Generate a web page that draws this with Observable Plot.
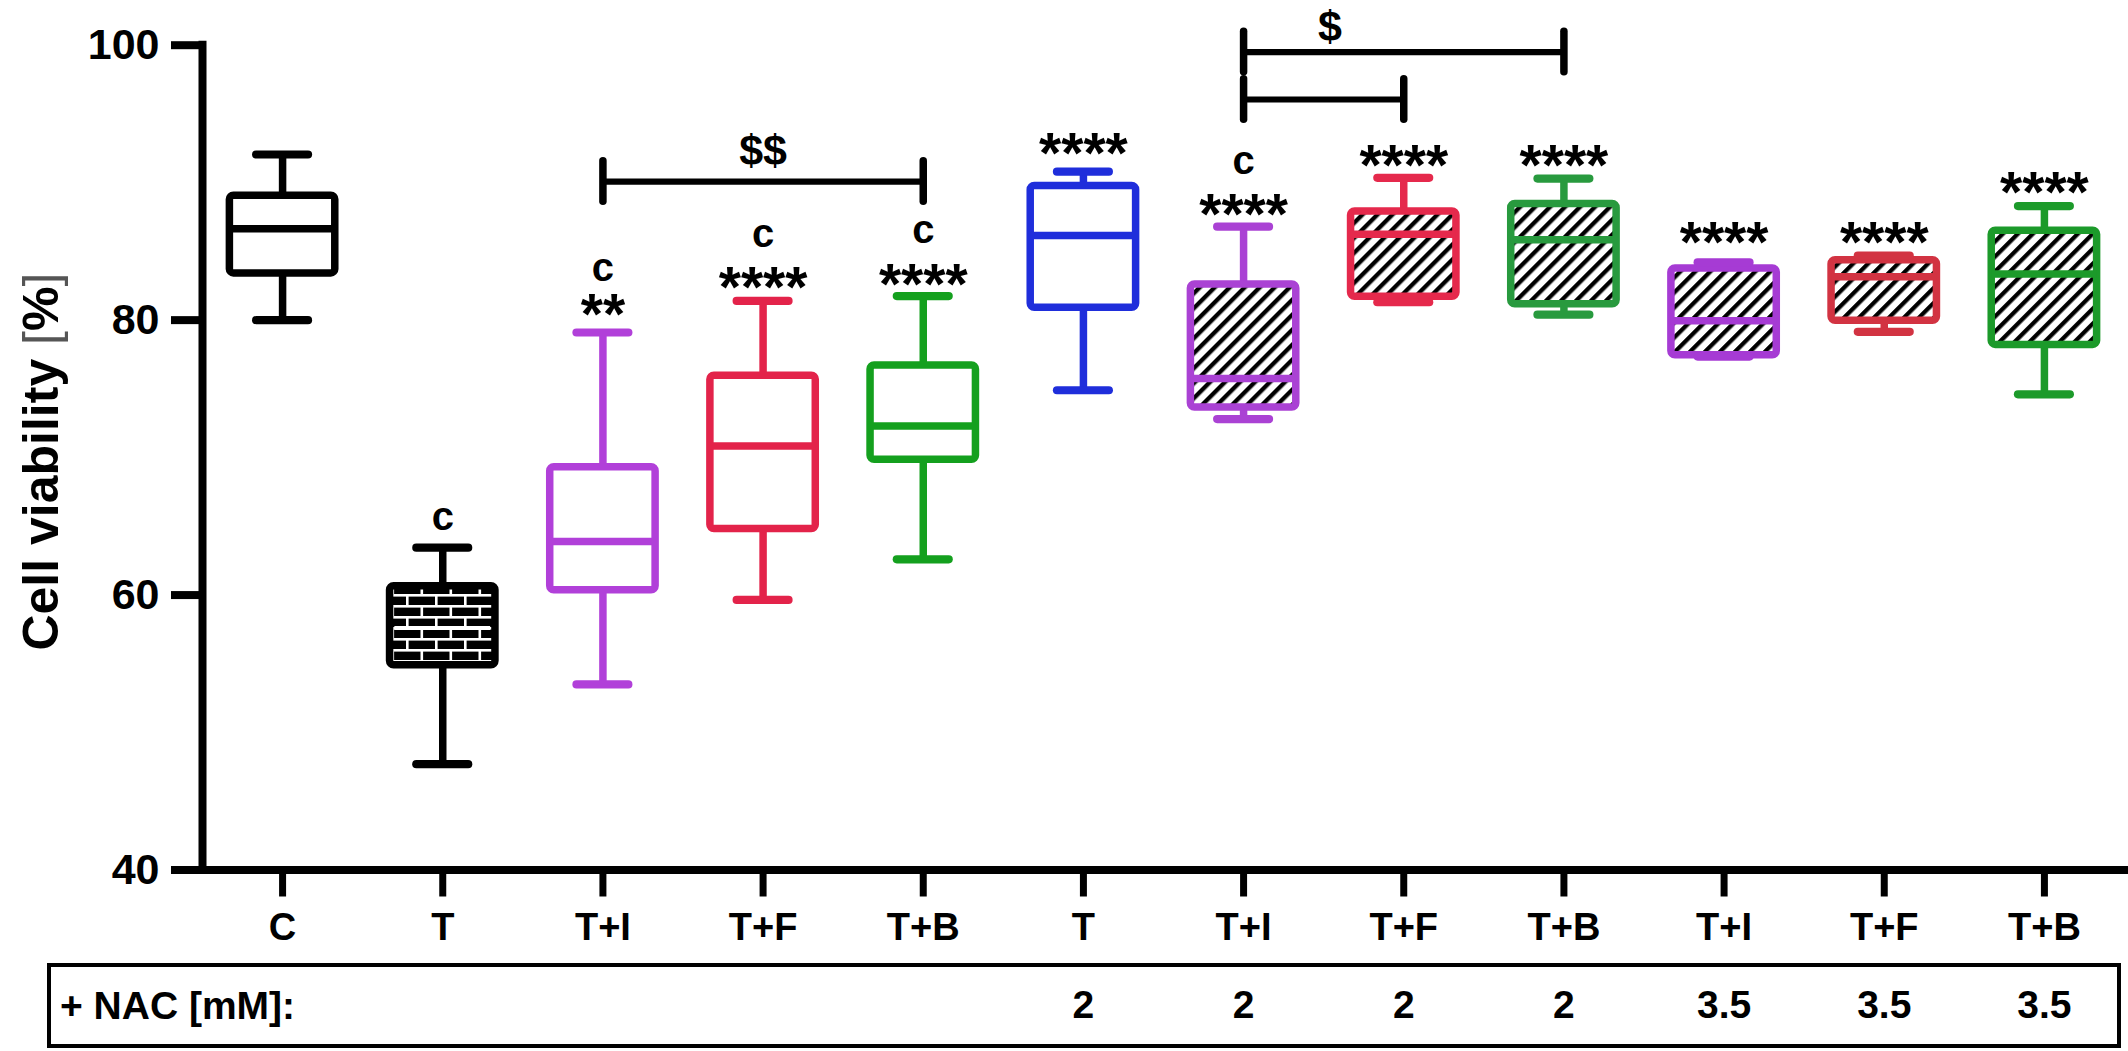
<!DOCTYPE html>
<html>
<head>
<meta charset="utf-8">
<script src="https://cdn.jsdelivr.net/npm/d3@7"></script>
<script src="https://cdn.jsdelivr.net/npm/@observablehq/plot@0.6"></script>
<style>
html, body { margin: 0; padding: 0; background: #fff; }
#wrap { position: relative; width: 2128px; height: 1051px; overflow: hidden; font-family: "Liberation Sans", Arial, Helvetica, sans-serif; }
#wrap svg.chart { position: absolute; left: 0; top: 0; }
#nacbox { position: absolute; left: 47px; top: 963px; width: 2074px; height: 85px; border: 4px solid #000; box-sizing: border-box; }
#naclabel { position: absolute; left: 60px; top: 1006px; transform: translateY(-50%); font-weight: bold; font-size: 39px; white-space: pre; }
</style>
</head>
<body>
<svg width="0" height="0" style="position:absolute;left:0;top:0">
  <defs>
    <pattern id="brick" patternUnits="userSpaceOnUse" width="29" height="22">
      <rect width="29" height="22" fill="#000"/>
      <rect x="0" y="0" width="29" height="2.6" fill="#fff"/>
      <rect x="0" y="11" width="29" height="2.6" fill="#fff"/>
      <rect x="0" y="0" width="2.6" height="11" fill="#fff"/>
      <rect x="14.5" y="11" width="2.6" height="11" fill="#fff"/>
    </pattern>
    <pattern id="hatch" patternUnits="userSpaceOnUse" width="10.6" height="10.6" patternTransform="rotate(45)">
      <rect width="10.6" height="10.6" fill="#fff"/>
      <rect width="4.3" height="10.6" fill="#000"/>
    </pattern>
  </defs>
</svg>
<div id="wrap">
  <div id="nacbox"></div>
  <div id="naclabel">+ NAC [mM]:</div>
</div>
<script>
// ---------------- data ----------------
const categories = ["C", "T", "T+I", "T+F", "T+B", "T", "T+I", "T+F", "T+B", "T+I", "T+F", "T+B"];
const nacLevels  = ["", "", "", "", "", "2", "2", "2", "2", "3.5", "3.5", "3.5"];

const whiskerLow  = [80.0, 47.7, 53.5, 59.65, 62.6, 74.9, 72.8, 81.3, 80.4, 77.35, 79.15, 74.6];
const quartile1   = [83.4, 54.9, 60.35, 64.8, 69.85, 80.9, 73.65, 81.7, 81.15, 77.45, 79.95, 78.2];
const medianValue = [86.65, 57.6, 63.9, 70.85, 72.3, 86.15, 75.75, 86.25, 85.85, 79.95, 83.15, 83.35];
const quartile3   = [89.05, 60.65, 69.3, 75.95, 76.7, 89.75, 82.6, 87.9, 88.45, 83.75, 84.35, 86.5];
const whiskerHigh = [92.05, 63.45, 79.1, 81.4, 81.75, 90.8, 86.8, 90.35, 90.3, 84.2, 84.7, 88.3];

const boxColors = ["#000000", "#000000", "#b140d9", "#e3234a", "#14a01e", "#1f2edb",
                   "#aa42d4", "#e5294c", "#289a3e", "#a63bd4", "#d23342", "#1c9a2a"];
const boxFill   = ["plain", "brick", "plain", "plain", "plain", "plain",
                   "hatch", "hatch", "hatch", "hatch", "hatch", "hatch"];

// significance marks
const starIndex = [2, 3, 4, 5, 6, 7, 8, 9, 10, 11];
const starText  = ["**", "****", "****", "****", "****", "****", "****", "****", "****", "****"];
const starY     = [81.4, 83.35, 83.6, 93.1, 88.7, 92.25, 92.25, 86.65, 86.65, 90.3];
const letterIndex = [1, 2, 3, 4, 6];
const letterY     = [65.5, 83.6, 86.1, 86.35, 91.35];

// comparison brackets
const bracketFrom  = [2, 6, 6];
const bracketTo    = [4, 8, 7];
const bracketY     = [90.08, 99.5, 96.05];
const bracketText  = ["$$", "$", ""];
const bracketTextX = [3, 6.54, 0];
const bracketTextY = [92.36, 101.4, 0];

const yTicks = [40, 60, 80, 100];

// ---------------- chart ----------------
const idx = d3.range(categories.length);
const W = 0.329, CAP = 0.162;
const font = "Liberation Sans, Arial, Helvetica, sans-serif";

const brackets = bracketFrom.map((f, k) => ({from: f, to: bracketTo[k], y: bracketY[k], text: bracketText[k], tx: bracketTextX[k], ty: bracketTextY[k]}));
const bracketEnds = brackets.flatMap(b => [{x: b.from, y: b.y}, {x: b.to, y: b.y}]);
const stars = starIndex.map((i, k) => ({i, text: starText[k], y: starY[k]}));
const letters = letterIndex.map((i, k) => ({i, y: letterY[k]}));

const byFill = f => idx.filter(i => boxFill[i] === f);
const boxRect = (ids, fill) => Plot.rect(ids, {
  x1: i => i - W, x2: i => i + W, y1: i => quartile1[i], y2: i => quartile3[i],
  fill, stroke: i => boxColors[i], strokeWidth: 7.5, rx: 4
});

const chart = Plot.plot({
  width: 2128,
  height: 1051,
  marginLeft: 202,
  marginRight: 4,
  marginTop: 44.7,
  marginBottom: 181.5,
  style: {fontFamily: font, background: "transparent", overflow: "visible"},
  x: {domain: [-0.5, 11.5]},
  y: {domain: [40, 100]},
  color: {type: "identity"},
  marks: [
    // axes
    Plot.axisY({ticks: yTicks, tickSize: 31, tickPadding: 12, tickFormat: d => String(d),
      fontSize: 43, fontWeight: "bold", strokeWidth: 8, label: null}),
    Plot.axisX({ticks: idx, tickSize: 27, tickPadding: 16, tickFormat: i => categories[i],
      fontSize: 38, fontWeight: "bold", strokeWidth: 7, label: null}),
    Plot.ruleX([-0.5], {y1: 40, y2: 100, strokeWidth: 8, strokeLinecap: "square"}),
    Plot.ruleY([40], {x1: -0.5, x2: 11.5, strokeWidth: 8, strokeLinecap: "square"}),
    // whiskers
    Plot.ruleX(idx, {x: i => i, y1: i => quartile3[i], y2: i => whiskerHigh[i], stroke: i => boxColors[i], strokeWidth: 7.5}),
    Plot.ruleX(idx, {x: i => i, y1: i => whiskerLow[i], y2: i => quartile1[i], stroke: i => boxColors[i], strokeWidth: 7.5}),
    // boxes
    boxRect(byFill("plain"), "white"),
    boxRect(byFill("brick"), "url(#brick)"),
    boxRect(byFill("hatch"), "url(#hatch)"),
    // medians
    Plot.ruleY(idx.filter(i => boxFill[i] !== "brick"), {y: i => medianValue[i], x1: i => i - W, x2: i => i + W, stroke: i => boxColors[i], strokeWidth: 7.5}),
    Plot.ruleY(byFill("brick"), {y: i => medianValue[i], x1: i => i - W + 0.03, x2: i => i + W - 0.03, stroke: "white", strokeWidth: 4}),
    // caps
    Plot.ruleY(idx, {y: i => whiskerHigh[i], x1: i => i - CAP, x2: i => i + CAP, stroke: i => boxColors[i], strokeWidth: 8.2, strokeLinecap: "round"}),
    Plot.ruleY(idx, {y: i => whiskerLow[i], x1: i => i - CAP, x2: i => i + CAP, stroke: i => boxColors[i], strokeWidth: 8.2, strokeLinecap: "round"}),
    // brackets
    Plot.ruleY(brackets, {y: "y", x1: "from", x2: "to", strokeWidth: 6.2}),
    Plot.ruleX(bracketEnds, {x: "x", y1: d => d.y - 1.47, y2: d => d.y + 1.47, strokeWidth: 7.5, strokeLinecap: "round"}),
    Plot.text(brackets.filter(b => b.text), {x: "tx", y: "ty", text: "text", fontSize: 43, fontWeight: "bold", dy: 1}),
    // significance text
    Plot.text(stars, {x: "i", y: "y", text: "text", fontSize: 57, fontWeight: "bold", dy: 15}),
    Plot.text(letters, {x: "i", y: "y", text: () => "c", fontSize: 40, fontWeight: "bold", dy: -2.5}),
    // NAC row values
    Plot.text(idx.filter(i => nacLevels[i]), {x: i => i, frameAnchor: "bottom", lineAnchor: "middle", dy: 136, text: i => nacLevels[i], fontSize: 39, fontWeight: "bold"}),
    // y title
    Plot.text(["Cell viability [%]"], {frameAnchor: "left", textAnchor: "middle", lineAnchor: "middle", dx: -161, dy: 4, rotate: -90, text: d => d, fontSize: 50, fontWeight: "bold"})
  ]
});
chart.classList.add("chart");

// grey brackets around % in the y title
d3.select(chart).selectAll("text").filter(function() { return this.textContent === "Cell viability [%]"; })
  .each(function() {
    const t = d3.select(this);
    t.text(null);
    t.append("tspan").text("Cell viability ");
    t.append("tspan").attr("fill", "#555").attr("font-weight", "normal").text("[");
    t.append("tspan").text("%");
    t.append("tspan").attr("fill", "#555").attr("font-weight", "normal").text("]");
  });

document.getElementById("wrap").prepend(chart);
</script>
</body>
</html>
